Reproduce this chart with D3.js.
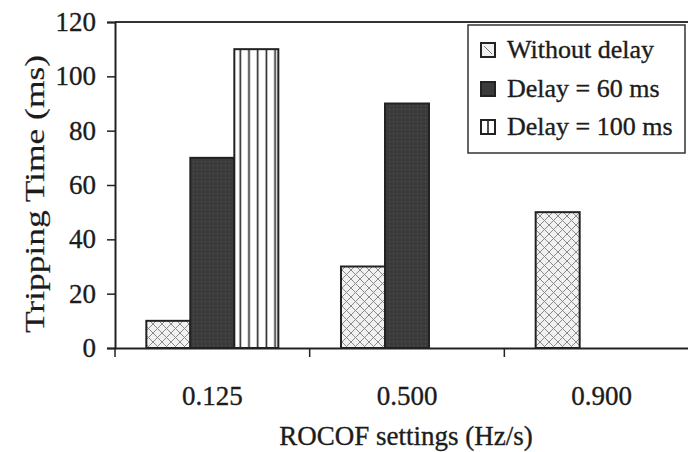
<!DOCTYPE html>
<html>
<head>
<meta charset="utf-8">
<script src="https://cdn.jsdelivr.net/npm/d3@7/dist/d3.min.js"></script>
<style>
  html, body { margin: 0; padding: 0; background: #fff; }
  svg { display: block; }
  text { font-family: "Liberation Serif", "DejaVu Serif", serif; fill: #1c1c1c; stroke: #1c1c1c; stroke-width: 0.35px; }
</style>
</head>
<body>
<svg id="chart" width="688" height="452"></svg>
<script>
const categories = ["0.125", "0.500", "0.900"];
const series = ["Without delay", "Delay = 60 ms", "Delay = 100 ms"];
const withoutDelay = [10, 30, 50];
const delay60 = [70, 90, null];
const delay100 = [110, null, null];
const yTicks = [0, 20, 40, 60, 80, 100, 120];
const xLabel = "ROCOF settings (Hz/s)";
const yLabel = "Tripping Time (ms)";

const values = [withoutDelay, delay60, delay100];
const fills = ["url(#cross)", "url(#dark)", "url(#vstripe)"];

const svg = d3.select("#chart");
const mLeft = 115, mRight = 699, mTop = 22, mBottom = 348;

const defs = svg.append("defs");
// cross hatch
const cross = defs.append("pattern").attr("id", "cross")
  .attr("patternUnits", "userSpaceOnUse").attr("width", 9).attr("height", 9);
cross.append("rect").attr("width", 9).attr("height", 9).attr("fill", "#f1f1f1");
cross.append("path").attr("d", "M0,0L9,9M-1,8L1,10M8,-1L10,1").attr("stroke", "#8a8a8a").attr("stroke-width", 1);
cross.append("path").attr("d", "M9,0L0,9M-1,1L1,-1M8,10L10,8").attr("stroke", "#8a8a8a").attr("stroke-width", 1);
// dark fill
const dark = defs.append("pattern").attr("id", "dark")
  .attr("patternUnits", "userSpaceOnUse").attr("width", 4).attr("height", 4);
dark.append("rect").attr("width", 4).attr("height", 4).attr("fill", "#3b3b3b");
dark.append("rect").attr("x", 1).attr("y", 1).attr("width", 1).attr("height", 1).attr("fill", "#555");
// vertical stripes
const vs = defs.append("pattern").attr("id", "vstripe")
  .attr("patternUnits", "userSpaceOnUse").attr("width", 8.7).attr("height", 10).attr("x", 234);
vs.append("rect").attr("width", 8.7).attr("height", 10).attr("fill", "#fff");
vs.append("rect").attr("x", 5.5).attr("width", 1.6).attr("height", 10).attr("fill", "#222");

const x0 = d3.scaleBand().domain(categories).range([mLeft, mRight]).paddingInner(0).paddingOuter(0);
const x1 = d3.scaleBand().domain(series).range([0, x0.bandwidth()]).paddingInner(0).paddingOuter(0.712);
const y = d3.scaleLinear().domain([0, 120]).range([mBottom, mTop]);

// bars
const bars = [];
categories.forEach((c, i) => {
  series.forEach((s, j) => {
    const v = values[j][i];
    if (v != null) bars.push({ c, s, v, j });
  });
});
svg.append("g").selectAll("rect").data(bars).join("rect")
  .attr("x", d => x0(d.c) + x1(d.s))
  .attr("y", d => y(d.v))
  .attr("width", x1.bandwidth())
  .attr("height", d => y(0) - y(d.v))
  .attr("fill", d => fills[d.j])
  .attr("stroke", "#222")
  .attr("stroke-width", 2);

// top border
svg.append("line").attr("x1", mLeft).attr("x2", 688).attr("y1", mTop).attr("y2", mTop)
  .attr("stroke", "#333").attr("stroke-width", 2);

// y axis
const yAxis = svg.append("g").attr("transform", `translate(${mLeft},0)`)
  .call(d3.axisLeft(y).tickValues(yTicks).tickSize(8).tickPadding(11));
yAxis.select(".domain").attr("stroke", "#222").attr("stroke-width", 2);
yAxis.selectAll(".tick line").attr("stroke", "#222").attr("stroke-width", 1.5);
yAxis.selectAll(".tick text").style("font-family", "Liberation Serif").style("font-size", "27px").attr("fill", "#1c1c1c");

// x axis
const xAxis = svg.append("g").attr("transform", `translate(0,${mBottom})`)
  .call(d3.axisBottom(x0).tickSize(0).tickPadding(38));
xAxis.select(".domain").attr("stroke", "#222").attr("stroke-width", 2);
xAxis.selectAll(".tick text").style("font-family", "Liberation Serif").style("font-size", "27px").attr("fill", "#1c1c1c");
// boundary ticks
const bounds = categories.map(c => x0(c));
xAxis.selectAll(".btick").data(bounds).join("line").attr("class", "btick")
  .attr("x1", d => d).attr("x2", d => d).attr("y1", 0).attr("y2", 9)
  .attr("stroke", "#222").attr("stroke-width", 1.5);

// axis labels
svg.append("text").attr("x", 406).attr("y", 445).attr("text-anchor", "middle")
  .style("font-size", "27px").text(xLabel);
svg.append("text").attr("transform", "translate(44,194) rotate(-90)").attr("text-anchor", "middle")
  .style("font-size", "27px").style("stroke-width", "0.2px")
  .attr("textLength", 278).attr("lengthAdjust", "spacingAndGlyphs").text(yLabel);

// legend
const lg = svg.append("g");
lg.append("rect").attr("x", 468).attr("y", 25).attr("width", 217).attr("height", 128)
  .attr("fill", "#fff").attr("stroke", "#333").attr("stroke-width", 1.5);
const legendY = [58, 97, 135];
series.forEach((s, j) => {
  lg.append("rect").attr("x", 481).attr("y", legendY[j] - 15).attr("width", 14).attr("height", 14)
    .attr("fill", j === 0 ? "#f1f1f1" : (j === 1 ? "#3b3b3b" : "#fff"))
    .attr("stroke", "#222").attr("stroke-width", 2);
  if (j === 0) {
    lg.append("line").attr("x1", 484).attr("y1", legendY[j] - 12).attr("x2", 492).attr("y2", legendY[j] - 4)
      .attr("stroke", "#777").attr("stroke-width", 1);
  }
  if (j === 2) {
    lg.append("line").attr("x1", 488).attr("x2", 488).attr("y1", legendY[j] - 15).attr("y2", legendY[j] - 1)
      .attr("stroke", "#222").attr("stroke-width", 1.6);
  }
  lg.append("text").attr("x", 507).attr("y", legendY[j]).style("font-size", "26px").text(s);
});
</script>
</body>
</html>
